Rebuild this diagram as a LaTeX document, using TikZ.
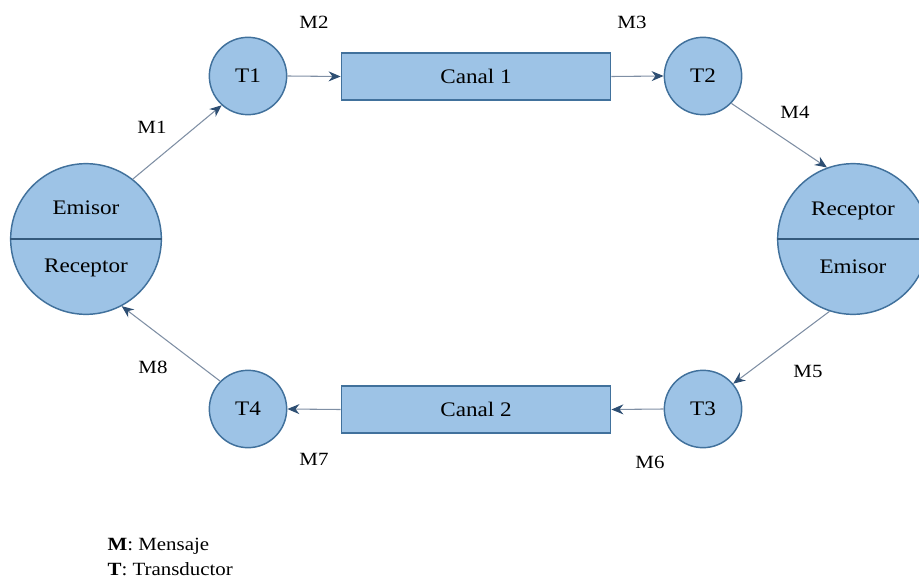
\documentclass[tikz,border=0pt]{standalone}
\usepackage{fontspec}
\setmainfont[FakeStretch=1.12]{Liberation Serif}
\usetikzlibrary{arrows.meta, positioning}

\definecolor{relleno}{HTML}{9DC3E6}
\definecolor{borde}{HTML}{41719C}
\definecolor{linea}{HTML}{7F8FA4}
\definecolor{punta}{HTML}{2E4F73}

\begin{document}
\begin{tikzpicture}[
    x=0.75pt, y=-0.75pt,
    nodo/.style={circle, draw=borde, fill=relleno, line width=1.1pt,
                 minimum size=58pt, inner sep=0pt,
                 font=\fontsize{15.5}{18}\selectfont},
    grande/.style={circle, draw=borde, fill=relleno, line width=1.1pt,
                   minimum size=113pt, inner sep=0pt},
    texto/.style={font=\fontsize{15.5}{18}\selectfont, inner sep=1pt},
    canal/.style={draw=borde, fill=relleno, line width=1.1pt,
                  minimum width=202pt, minimum height=35pt,
                  font=\fontsize{15.5}{18}\selectfont},
    etiq/.style={font=\fontsize{14}{16}\selectfont, inner sep=1pt},
    flecha/.style={draw=linea, line width=0.8pt,
                   -{Stealth[length=9pt, width=7.5pt, color=punta]}}
  ]
  \useasboundingbox (0,0) rectangle (919,581);

  % extremos: emisor/receptor a cada lado
  \node[grande] (izq) at (86,239) {};
  \draw[draw=borde!80!black, line width=1.8pt] (izq.west) -- (izq.east);
  \node[texto] (izqE) at (86,208) {Emisor};
  \node[texto] (izqR) at (86,268) {Receptor};

  \node[grande] (der) at (853,239) {};
  \draw[draw=borde!80!black, line width=1.8pt] (der.west) -- (der.east);
  \node[texto] (derR) at (853,211) {Receptor};
  \node[texto] (derE) at (853,267) {Emisor};

  % transductores y canales
  \node[nodo] (t1) at (248,76) {T1};
  \node[nodo] (t2) at (703,76) {T2};
  \node[nodo] (t3) at (703,409) {T3};
  \node[nodo] (t4) at (248,409) {T4};

  \node[canal] (canal1) at (476,76.5) {Canal 1};
  \node[canal] (canal2) at (476,409.5) {Canal 2};

  % flechas
  \draw[flecha] (izq.52) -- (t1.228);
  \draw[flecha] (t1.east) -- (canal1.west);
  \draw[flecha] (canal1.east) -- (t2.west);
  \draw[flecha] (t2.-44) -- (der.110);
  \draw[flecha] (der.-108) -- (t3.40);
  \draw[flecha] (t3.west) -- (canal2.east);
  \draw[flecha] (canal2.west) -- (t4.east);
  \draw[flecha] (t4.135) -- (izq.-62);

  % mensajes
  \node[etiq] (m1) at (152,127) {M1};
  \node[etiq] (m2) at (314,22) {M2};
  \node[etiq] (m3) at (632,22) {M3};
  \node[etiq] (m4) at (795,112) {M4};
  \node[etiq] (m5) at (808,371) {M5};
  \node[etiq] (m6) at (650,462) {M6};
  \node[etiq] (m7) at (314,459) {M7};
  \node[etiq] (m8) at (153,367) {M8};

  % leyenda
  \node[etiq, anchor=west] (leyM) at (106,546) {\textbf{M}: Mensaje};
  \node[etiq, anchor=west] (leyT) at (106,569) {\textbf{T}: Transductor};
\end{tikzpicture}
\end{document}
